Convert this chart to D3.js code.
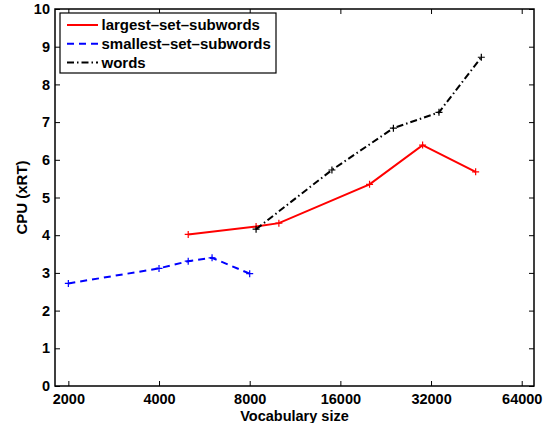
<!DOCTYPE html>
<html>
<head>
<meta charset="utf-8">
<script src="https://cdn.jsdelivr.net/npm/d3@7"></script>
<style>
  body { margin: 0; background: #fff; }
  text { font-family: "Liberation Sans", Arial, Helvetica, sans-serif; font-weight: bold; }
</style>
</head>
<body>
<div id="wrapper"></div>
<script>
const xTicks = [2000, 4000, 8000, 16000, 32000, 64000]
const yTicks = [0, 1, 2, 3, 4, 5, 6, 7, 8, 9, 10]

const largestX = [5000, 8400, 10000, 20000, 30000, 45000]
const largestY = [4.02, 4.23, 4.32, 5.35, 6.39, 5.68]

const smallestX = [2000, 4000, 5000, 6000, 8000]
const smallestY = [2.72, 3.12, 3.31, 3.40, 2.98]

const wordsX = [8400, 15000, 24000, 34000, 47000]
const wordsY = [4.16, 5.73, 6.84, 7.26, 8.72]

const seriesNames = ["largest–set–subwords", "smallest–set–subwords", "words"]

const series = [
  {name: seriesNames[0], xs: largestX, ys: largestY, color: "#ff0000", dash: null},
  {name: seriesNames[1], xs: smallestX, ys: smallestY, color: "#0000ff", dash: "7,5"},
  {name: seriesNames[2], xs: wordsX, ys: wordsY, color: "#000000", dash: "7,3,1.5,3"}
]

let dimensions = {
  width: 550,
  height: 423,
  margin: {top: 9, right: 16, bottom: 37, left: 55}
}
dimensions.boundedWidth = dimensions.width - dimensions.margin.left - dimensions.margin.right
dimensions.boundedHeight = dimensions.height - dimensions.margin.top - dimensions.margin.bottom

const svg = d3.select("#wrapper")
  .append("svg")
    .attr("width", dimensions.width)
    .attr("height", dimensions.height)

const bounds = svg.append("g")
    .attr("transform", `translate(${dimensions.margin.left},${dimensions.margin.top})`)

const xScale = d3.scaleLog()
    .base(2)
    .domain([1806, 70300])
    .range([0, dimensions.boundedWidth])

const yScale = d3.scaleLinear()
    .domain([0, 10])
    .range([dimensions.boundedHeight, 0])

// tick marks point inward, mirrored on top and right
const tickLen = 5
const tickStyle = g => {
  g.select(".domain").remove()
  g.selectAll(".tick line").attr("stroke", "#000").attr("stroke-width", 1)
  g.selectAll(".tick text").attr("fill", "#000").style("font-size", "14.5px")
}

bounds.append("g")
    .attr("transform", `translate(0,${dimensions.boundedHeight})`)
    .call(d3.axisBottom(xScale).tickValues(xTicks).tickFormat(d3.format("d"))
      .tickSizeInner(-tickLen).tickSizeOuter(0).tickPadding(7.5))
    .call(tickStyle)

bounds.append("g")
    .call(d3.axisTop(xScale).tickValues(xTicks).tickFormat("")
      .tickSizeInner(-tickLen).tickSizeOuter(0))
    .call(tickStyle)

bounds.append("g")
    .call(d3.axisLeft(yScale).tickValues(yTicks).tickFormat(d3.format("d"))
      .tickSizeInner(-tickLen).tickSizeOuter(0).tickPadding(5))
    .call(tickStyle)

bounds.append("g")
    .attr("transform", `translate(${dimensions.boundedWidth},0)`)
    .call(d3.axisRight(yScale).tickValues(yTicks).tickFormat("")
      .tickSizeInner(-tickLen).tickSizeOuter(0))
    .call(tickStyle)

bounds.append("rect")
    .attr("width", dimensions.boundedWidth)
    .attr("height", dimensions.boundedHeight)
    .attr("fill", "none")
    .attr("stroke", "#000")
    .attr("stroke-width", 1.5)

const lineGenerator = d3.line()
    .x(d => xScale(d[0]))
    .y(d => yScale(d[1]))

series.forEach(s => {
  const pts = s.xs.map((x, i) => [x, s.ys[i]])
  bounds.append("path")
      .attr("d", lineGenerator(pts))
      .attr("fill", "none")
      .attr("stroke", s.color)
      .attr("stroke-width", 2)
      .attr("stroke-dasharray", s.dash)

  bounds.append("g").selectAll("path")
    .data(pts)
    .join("path")
      .attr("d", d => {
        const cx = xScale(d[0]), cy = yScale(d[1]), r = 3.5
        return `M${cx - r},${cy}H${cx + r}M${cx},${cy - r}V${cy + r}`
      })
      .attr("stroke", s.color)
      .attr("stroke-width", 1.2)
})

// legend
const legend = svg.append("g").attr("transform", "translate(60,13)")
legend.append("rect")
    .attr("width", 216)
    .attr("height", 60)
    .attr("fill", "#fff")
    .attr("stroke", "#000")
    .attr("stroke-width", 1.2)

series.forEach((s, i) => {
  const y = 12 + i * 18.8
  legend.append("line")
      .attr("x1", 7).attr("x2", 38)
      .attr("y1", y).attr("y2", y)
      .attr("stroke", s.color)
      .attr("stroke-width", 2)
      .attr("stroke-dasharray", s.dash)
  legend.append("text")
      .attr("x", 41.5)
      .attr("y", y)
      .attr("dy", "0.35em")
      .style("font-size", "15px")
      .text(s.name)
})

svg.append("text")
    .attr("x", dimensions.margin.left + dimensions.boundedWidth / 2)
    .attr("y", 420.5)
    .attr("text-anchor", "middle")
    .style("font-size", "14.5px")
    .text("Vocabulary size")

svg.append("text")
    .attr("transform", `translate(27,${dimensions.margin.top + dimensions.boundedHeight / 2}) rotate(-90)`)
    .attr("text-anchor", "middle")
    .style("font-size", "15px")
    .text("CPU (xRT)")
</script>
</body>
</html>
